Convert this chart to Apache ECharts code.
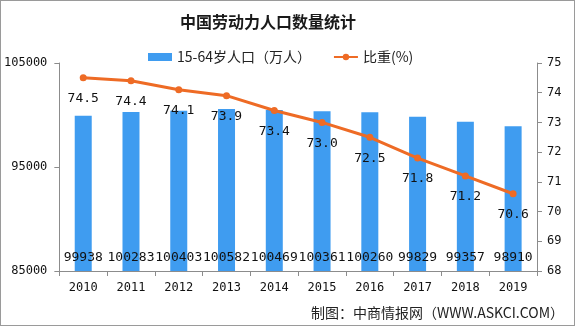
<!DOCTYPE html>
<html>
<head>
<meta charset="utf-8">
<script src="https://cdn.jsdelivr.net/npm/echarts@6/dist/echarts.min.js"></script>
<style>
  html, body { margin: 0; padding: 0; background: #fff; }
  #chart { width: 575px; height: 326px; box-sizing: border-box; border: 1px solid #9a9a9a; }
</style>
</head>
<body>
<div id="chart"></div>
<script>
// Working-age population of China, 2010-2019
const years = ['2010', '2011', '2012', '2013', '2014', '2015', '2016', '2017', '2018', '2019'];
const population = [99938, 100283, 100403, 100582, 100469, 100361, 100260, 99829, 99357, 98910];
const share = [74.5, 74.4, 74.1, 73.9, 73.4, 73.0, 72.5, 71.8, 71.2, 70.6];

const titleText = '中国劳动力人口数量统计';
const barName = '15-64岁人口（万人）';
const lineName = '比重(%)';
const sourceText = '制图：中商情报网（WWW.ASKCI.COM）';

const mono = '"DejaVu Sans Mono", "Liberation Mono", monospace';
const cjk = '"Noto Sans CJK SC", "Noto Sans", sans-serif';
const axisGrey = '#8c8c8c';

const chart = echarts.init(document.getElementById('chart'));
chart.setOption({
  animation: false,
  title: {
    text: titleText,
    left: 174,
    top: 8,
    textStyle: { fontFamily: cjk, fontSize: 16, fontWeight: 'bold', color: '#1a1a1a' }
  },
  legend: {
    top: 44,
    left: 142,
    itemGap: 22,
    textStyle: { fontFamily: cjk, fontSize: 14, color: '#222' },
    data: [
      { name: barName, icon: 'rect' },
      { name: lineName }
    ],
    itemWidth: 24,
    itemHeight: 8
  },
  grid: { left: 58, right: 37, top: 62, bottom: 54 },
  xAxis: {
    type: 'category',
    data: years,
    axisLine: { lineStyle: { color: axisGrey } },
    axisTick: { show: true, length: 5, lineStyle: { color: axisGrey } },
    axisLabel: { fontFamily: mono, fontSize: 12, color: '#111', margin: 11 }
  },
  yAxis: [
    {
      type: 'value',
      min: 85000, max: 105000, interval: 10000,
      position: 'left',
      splitLine: { show: false },
      axisLine: { show: true, lineStyle: { color: axisGrey } },
      axisTick: { show: true, length: 5, lineStyle: { color: axisGrey } },
      axisLabel: { fontFamily: mono, fontSize: 12, color: '#111', margin: 12, formatter: v => String(v) }
    },
    {
      type: 'value',
      min: 68, max: 75, interval: 1,
      position: 'right',
      splitLine: { show: false },
      axisLine: { show: true, lineStyle: { color: axisGrey } },
      axisTick: { show: true, length: 5, lineStyle: { color: axisGrey } },
      axisLabel: { fontFamily: mono, fontSize: 12, color: '#111', margin: 10 }
    }
  ],
  series: [
    {
      name: barName,
      type: 'bar',
      data: population,
      yAxisIndex: 0,
      barWidth: 17,
      itemStyle: { color: '#3f9cf0' },
      label: {
        show: true,
        position: 'insideBottom',
        distance: 7,
        fontFamily: mono,
        fontSize: 13,
        color: '#111'
      }
    },
    {
      name: lineName,
      type: 'line',
      data: share,
      yAxisIndex: 1,
      symbol: 'circle',
      symbolSize: 7,
      lineStyle: { color: '#ee6b25', width: 3 },
      itemStyle: { color: '#ee6b25' },
      label: {
        show: true,
        position: 'bottom',
        distance: 11,
        fontFamily: mono,
        fontSize: 13,
        color: '#111',
        formatter: p => p.value.toFixed(1)
      }
    }
  ],
  graphic: [
    {
      type: 'text',
      right: 10,
      bottom: 5,
      style: { text: sourceText, font: '14px ' + cjk, fill: '#222' }
    }
  ]
});
</script>
</body>
</html>
